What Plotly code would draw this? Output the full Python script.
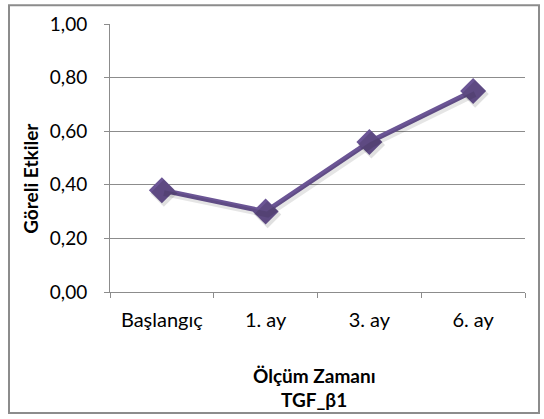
import plotly.graph_objects as go

categories = ["Başlangıç", "1. ay", "3. ay", "6. ay"]
values = [0.38, 0.30, 0.56, 0.75]
y_ticks = [0.0, 0.2, 0.4, 0.6, 0.8, 1.0]

W, H = 544, 419
L, R, T, B = 110, 19, 22, 127
pw, ph = W - L - R, H - T - B

def px_x(p):
    return (p - L) / pw

def px_y(p):
    return (H - B - p) / ph

color = "#6B5595"
grid = "#8C8C8C"
shadow_dx, shadow_dy = 2, 3
cat_w = pw / len(categories)

fig = go.Figure()
fig.add_trace(go.Scatter(
    x=categories, y=values, mode="lines+markers",
    line=dict(color="rgba(0,0,0,0.10)", width=6),
    marker=dict(symbol="diamond", size=21, color="rgba(0,0,0,0.12)"),
    showlegend=False, cliponaxis=False, xaxis="x2", yaxis="y2", hoverinfo="skip",
))
fig.add_trace(go.Scatter(
    x=categories, y=values, mode="lines+markers",
    line=dict(color=color, width=5),
    marker=dict(symbol="diamond", size=20, color=color),
    showlegend=False, cliponaxis=False,
))

fig.update_layout(
    width=W, height=H,
    margin=dict(l=L, r=R, t=T, b=B, pad=0),
    paper_bgcolor="white", plot_bgcolor="white",
    separators=",.",
    font=dict(family="Lato, Open Sans, sans-serif", size=20, color="#000000"),
    xaxis=dict(
        type="category", range=[-0.5, 3.5], showline=True, linecolor=grid, linewidth=1,
        ticks="outside", ticklen=5, tickcolor=grid, tickson="boundaries",
        showgrid=False, ticklabelstandoff=10, zeroline=False, fixedrange=True,
    ),
    yaxis=dict(
        range=[0, 1], tickvals=y_ticks, tickformat=".2f",
        showline=True, linecolor=grid, linewidth=1,
        ticks="outside", ticklen=5, tickcolor=grid,
        showgrid=True, gridcolor=grid, gridwidth=1,
        ticklabelstandoff=13, zeroline=False, fixedrange=True,
        tickfont=dict(size=19),
    ),
    xaxis2=dict(
        type="category", overlaying="x", visible=False, fixedrange=True,
        range=[-0.5 - shadow_dx / cat_w, 3.5 - shadow_dx / cat_w],
    ),
    yaxis2=dict(
        overlaying="y", visible=False, fixedrange=True,
        range=[0 + shadow_dy / ph, 1 + shadow_dy / ph],
    ),
    shapes=[dict(
        type="rect", xref="paper", yref="paper",
        x0=px_x(9), x1=px_x(539), y0=px_y(414), y1=px_y(3),
        line=dict(color="#8C8C8C", width=2), layer="above",
    )],
    annotations=[
        dict(text="<b>Göreli Etkiler</b>", textangle=-90, xref="paper", yref="paper",
             x=px_x(31), y=px_y(178), showarrow=False, xanchor="center", yanchor="middle",
             font=dict(size=19)),
        dict(text="<b>Ölçüm Zamanı</b>", xref="paper", yref="paper",
             x=px_x(314), y=px_y(376), showarrow=False, xanchor="center", yanchor="middle",
             font=dict(size=19)),
        dict(text="<b>TGF_β1</b>", xref="paper", yref="paper",
             x=px_x(314), y=px_y(400), showarrow=False, xanchor="center", yanchor="middle",
             font=dict(size=19)),
    ],
)

fig.write_html("out.html", config={"displayModeBar": False},
               post_script="document.body.style.margin='0';document.body.style.padding='0';")
